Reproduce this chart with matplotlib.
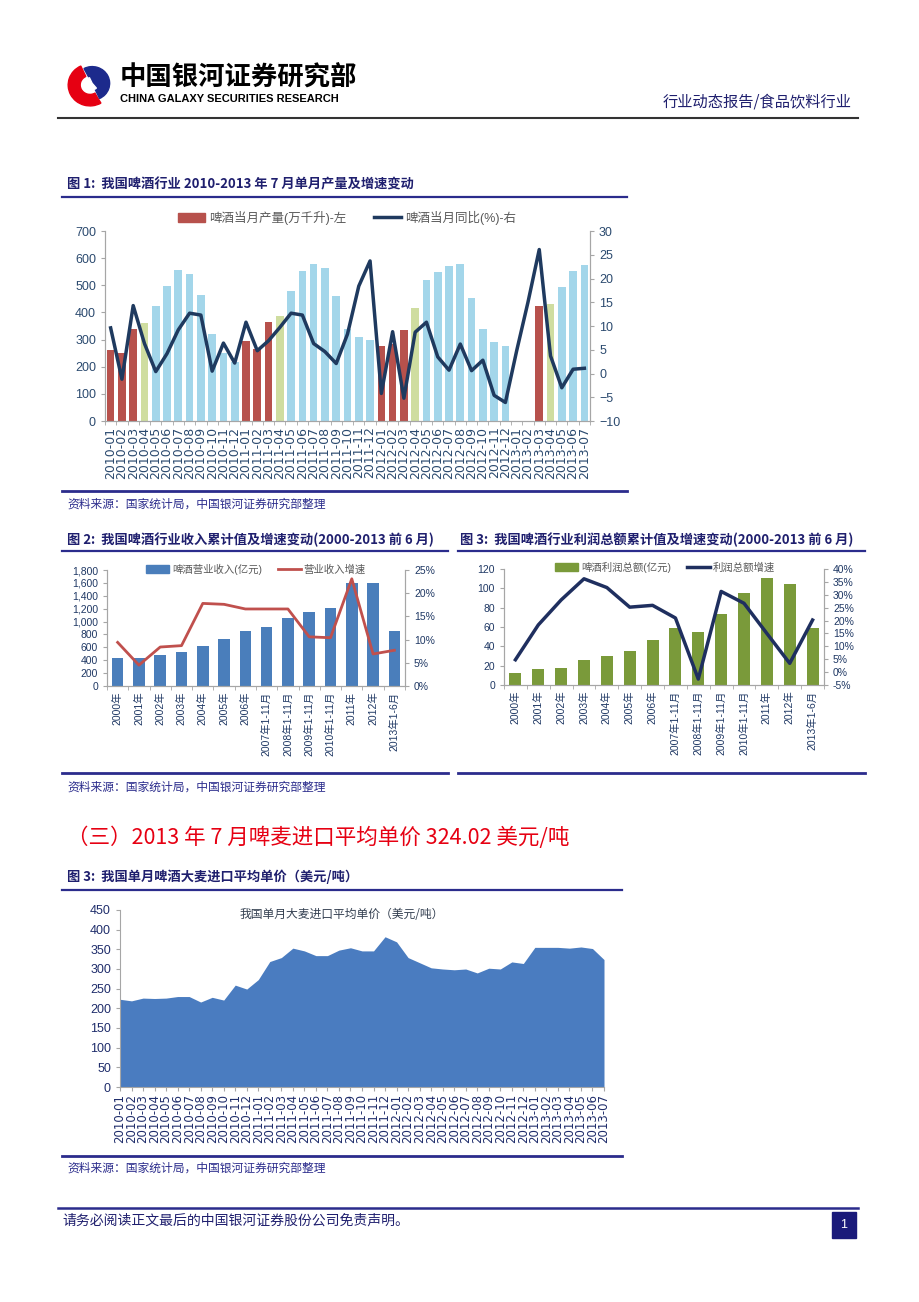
import numpy as np
import matplotlib.pyplot as plt
from matplotlib.lines import Line2D
from matplotlib.patches import Patch, Wedge, Rectangle
from matplotlib.ticker import FuncFormatter

plt.rcParams['font.family'] = ['Liberation Sans', 'Noto Sans CJK SC', 'DejaVu Sans']

# ---- data ----
# monthly labels 2010-01 .. 2013-07
months = ['%d-%02d' % (y, m) for y in range(2010, 2014) for m in range(1, 13)][:43]

# beer monthly output (10k kl), left axis
beer_output = [260, 252, 340, 360, 425, 497, 558, 541, 463, 322, 250, 217,
               295, 266, 363, 388, 478, 553, 580, 565, 462, 340, 310, 298,
               278, 283, 336, 417, 520, 550, 570, 580, 455, 340, 290, 275,
               np.nan, np.nan, 423, 430, 493, 553, 573]
# yoy growth (%), right axis
beer_yoy = [9.6, -1.2, 14.3, 6.3, 0.4, 4.2, 9.2, 12.7, 12.3, 0.5, 6.4, 2.2,
            10.8, 4.8, 6.9, 9.7, 12.7, 12.3, 6.3, 4.6, 2.1, 8.3, 18.4, 23.7,
            -4.2, 8.8, -5.2, 8.7, 10.8, 3.5, 0.7, 6.2, 0.6, 2.8, -4.6, -6.1,
            4.8, 15.0, 26.1, 3.7, -3.0, 0.9, 1.1]

periods = ['2000年', '2001年', '2002年', '2003年', '2004年', '2005年', '2006年',
           '2007年1-11月', '2008年1-11月', '2009年1-11月', '2010年1-11月',
           '2011年', '2012年', '2013年1-6月']
revenue = [442, 442, 484, 520, 624, 722, 847, 912, 1052, 1152, 1218, 1592, 1605, 860]
revenue_growth = [9.4, 4.5, 8.4, 8.7, 17.8, 17.6, 16.6, 16.6, 16.6, 10.6, 10.4, 23.1, 6.9, 7.7]
profit = [12, 16.5, 17.5, 26, 29.5, 35, 46.5, 58.5, 55, 73.5, 95, 110.5, 105, 58.5]
profit_growth = [4.8, 18.3, 28.0, 36.2, 32.8, 25.2, 25.9, 21.0, -2.7, 31.3, 26.7, 15.0, 3.4, 20.2]

# barley import average price (USD/t)
barley_price = [223, 219, 226, 225, 226, 230, 230, 216, 228, 221, 259, 249,
                273, 319, 329, 353, 346, 334, 334, 348, 354, 346, 346, 382,
                369, 329, 316, 303, 300, 298, 300, 290, 302, 300, 318, 314,
                355, 355, 355, 353, 356, 352, 324.02]

# ---- styles ----
W, H = 920, 1302
CJK = ['Noto Sans CJK SC', 'DejaVu Sans']
NAVY = '#1F1F6E'
RULE = '#2B2C8C'
GRAY = '#A6A6A6'
TICK = '#2B4A6F'
LEG = '#595959'
RED = '#B7514C'
GREEN = '#CFDDA0'
BLUE = '#A3D6EA'

fig = plt.figure(figsize=(W / 100, H / 100), dpi=100)


def px_axes(l, t, r, b):
    return fig.add_axes([l / W, 1 - b / H, (r - l) / W, (b - t) / H])


def hline(y, x0, x1, color=RULE, lw=1.6):
    fig.add_artist(Line2D([x0 / W, x1 / W], [1 - y / H] * 2, color=color, lw=lw))


def ftext(x, y, s, **kw):
    kw.setdefault('va', 'center')
    fig.text(x / W, 1 - y / H, s, **kw)


def style_axes(ax, axr=None, color=TICK, size=8.5):
    for a in [ax] + ([axr] if axr is not None else []):
        a.spines['top'].set_visible(False)
        for s in ('left', 'right', 'bottom'):
            a.spines[s].set_color(GRAY)
        a.tick_params(colors=GRAY, labelcolor=color, labelsize=size, length=3, width=0.8)


# ---- header ----
logo = px_axes(66, 62, 114, 108)
logo.set_xlim(-1.1, 1.1)
logo.set_ylim(-1.1, 1.1)
logo.axis('off')
logo.add_patch(Wedge((0, 0), 1.0, 115, 300, width=0.55, color='#E60012'))
logo.add_patch(Wedge((0.1, 0.08), 0.8, -65, 118, color='#1C2A8C'))
logo.add_patch(Wedge((0.1, 0.08), 0.3, 115, 310, color='white'))

ftext(120, 78, '中国银河证券研究部', fontsize=19, fontweight='bold', family=CJK)
ftext(120, 99, 'CHINA GALAXY SECURITIES RESEARCH', fontsize=8, fontweight='bold')
ftext(852, 102, '行业动态报告/食品饮料行业', fontsize=11, color=NAVY, ha='right', family=CJK)
hline(118, 58, 858, color='#333333', lw=1.5)

src = '资料来源：国家统计局，中国银河证券研究部整理'

# ---- chart 1 ----
ftext(67, 184, '图 1:  我国啤酒行业 2010-2013 年 7 月单月产量及增速变动',
      fontsize=9.5, fontweight='bold', color=NAVY, family=CJK)
hline(197, 62, 627)

ax1 = px_axes(105, 231, 590, 421)
x1 = np.arange(len(months))
bar_colors = [RED if m[-2:] in ('01', '02', '03') else GREEN if m[-2:] == '04' else BLUE
              for m in months]
ax1.bar(x1, beer_output, width=0.68, color=bar_colors)
ax1.set_xlim(-0.5, len(months) - 0.5)
ax1.set_ylim(0, 700)
ax1.set_yticks(range(0, 701, 100))
ax1b = ax1.twinx()
ax1b.plot(x1, beer_yoy, color='#1F3A5F', lw=2.5)
ax1b.set_ylim(-10, 30)
ax1b.set_yticks(range(-10, 31, 5))
style_axes(ax1, ax1b, size=9)
ax1.set_xticks(x1)
ax1.set_xticklabels(months, rotation=90, fontsize=9, family='DejaVu Sans')
ax1.tick_params(axis='x', length=0, pad=4)
ax1.set_xticks(np.arange(-0.5, len(months), 1), minor=True)
ax1.tick_params(axis='x', which='minor', length=3, color=GRAY)
ax1.legend([Patch(color=RED), Line2D([], [], color='#1F3A5F', lw=2.5)],
           ['啤酒当月产量(万千升)-左', '啤酒当月同比(%)-右'],
           loc='center', bbox_to_anchor=(347 / W, 1 - 218 / H), bbox_transform=fig.transFigure,
           ncol=2, frameon=False, fontsize=9, labelcolor=LEG, handlelength=2.2,
           handleheight=0.8, columnspacing=2.2, handletextpad=0.3)

hline(491, 62, 627, lw=2)
ftext(67, 504, src, fontsize=8.5, color=RULE, family=CJK)

# ---- chart 2 ----
ftext(67, 540, '图 2:  我国啤酒行业收入累计值及增速变动(2000-2013 前 6 月)',
      fontsize=9.5, fontweight='bold', color=NAVY, family=CJK)
hline(551, 62, 448)

xp = np.arange(len(periods))
ax2 = px_axes(107, 570, 405, 686)
ax2.bar(xp, revenue, width=0.55, color='#4A7EBB')
ax2.set_xlim(-0.5, len(periods) - 0.5)
ax2.set_ylim(0, 1800)
ax2.set_yticks(range(0, 1801, 200))
ax2.yaxis.set_major_formatter(FuncFormatter(lambda v, _: f'{v:,.0f}'))
ax2b = ax2.twinx()
ax2b.plot(xp, revenue_growth, color='#C0504D', lw=2)
ax2b.set_ylim(0, 25)
ax2b.set_yticks(range(0, 26, 5))
ax2b.yaxis.set_major_formatter(FuncFormatter(lambda v, _: f'{v:.0f}%'))
style_axes(ax2, ax2b, color='#1F3864', size=7.5)
ax2.set_xticks(xp)
ax2.set_xticklabels(periods, rotation=90, fontsize=7.5)
ax2.tick_params(axis='x', length=0, pad=4)
ax2.set_xticks(np.arange(-0.5, len(periods), 1), minor=True)
ax2.tick_params(axis='x', which='minor', length=3, color=GRAY)
ax2.legend([Patch(color='#4A7EBB'), Line2D([], [], color='#C0504D', lw=2)],
           ['啤酒营业收入(亿元)', '营业收入增速'],
           loc='center', bbox_to_anchor=(256 / W, 1 - 569 / H), bbox_transform=fig.transFigure,
           ncol=2, frameon=False, fontsize=7.5, labelcolor=LEG, handlelength=2.2,
           handleheight=0.8, columnspacing=1.5, handletextpad=0.3)

hline(773, 62, 448, lw=2)
ftext(67, 787, src, fontsize=8.5, color=RULE, family=CJK)

# ---- chart 3 ----
ftext(460, 540, '图 3:  我国啤酒行业利润总额累计值及增速变动(2000-2013 前 6 月)',
      fontsize=9.5, fontweight='bold', color=NAVY, family=CJK)
hline(551, 458, 865)

ax3 = px_axes(504, 569, 824, 685)
ax3.bar(xp, profit, width=0.53, color='#7A9A3A')
ax3.set_xlim(-0.5, len(periods) - 0.5)
ax3.set_ylim(0, 120)
ax3.set_yticks(range(0, 121, 20))
ax3b = ax3.twinx()
ax3b.plot(xp, profit_growth, color='#1F2F5F', lw=2.5)
ax3b.set_ylim(-5, 40)
ax3b.set_yticks(range(-5, 41, 5))
ax3b.yaxis.set_major_formatter(FuncFormatter(lambda v, _: f'{v:.0f}%'))
style_axes(ax3, ax3b, color='#1F3864', size=7.5)
ax3.set_xticks(xp)
ax3.set_xticklabels(periods, rotation=90, fontsize=7.5)
ax3.tick_params(axis='x', length=0, pad=4)
ax3.set_xticks(np.arange(-0.5, len(periods), 1), minor=True)
ax3.tick_params(axis='x', which='minor', length=3, color=GRAY)
ax3.legend([Patch(color='#7A9A3A'), Line2D([], [], color='#1F2F5F', lw=2.5)],
           ['啤酒利润总额(亿元)', '利润总额增速'],
           loc='center', bbox_to_anchor=(665 / W, 1 - 567 / H), bbox_transform=fig.transFigure,
           ncol=2, frameon=False, fontsize=7.5, labelcolor=LEG, handlelength=2.2,
           handleheight=0.8, columnspacing=1.5, handletextpad=0.3)

hline(773, 458, 865, lw=2)

# ---- section heading + chart 4 ----
ftext(67, 838, '（三）2013 年 7 月啤麦进口平均单价 324.02 美元/吨',
      fontsize=15.5, color='#E60012', family=CJK)
ftext(67, 877, '图 3:  我国单月啤酒大麦进口平均单价（美元/吨）',
      fontsize=9.5, fontweight='bold', color=NAVY, family=CJK)
hline(890, 62, 622)

ax4 = px_axes(120, 910, 604, 1087)
x4 = np.arange(len(months))
ax4.fill_between(x4, barley_price, color='#4A7CC0', lw=0)
ax4.set_xlim(0, len(months) - 1)
ax4.set_ylim(0, 450)
ax4.set_yticks(range(0, 451, 50))
style_axes(ax4, color='#1F2D6B', size=9)
ax4.spines['right'].set_visible(False)
ax4.set_xticks(x4)
ax4.set_xticklabels(months, rotation=90, fontsize=8.5, family='DejaVu Sans')
ax4.tick_params(axis='x', length=3, pad=2)
ftext(342, 914, '我国单月大麦进口平均单价（美元/吨）', fontsize=8.5, color='#333F50',
      ha='center', family=CJK)

hline(1156, 62, 622, lw=2)
ftext(67, 1168, src, fontsize=8.5, color=RULE, family=CJK)

# ---- footer ----
hline(1208, 58, 858, lw=1.8)
ftext(62, 1221, '请务必阅读正文最后的中国银河证券股份公司免责声明。', fontsize=10,
      color=NAVY, family=CJK)
fig.add_artist(Rectangle((832 / W, 1 - 1238 / H), 24 / W, 26 / H,
                         transform=fig.transFigure, color='#1A1A7A'))
ftext(844, 1225, '1', fontsize=9, color='white', ha='center')

plt.savefig('out.png', dpi=100)
